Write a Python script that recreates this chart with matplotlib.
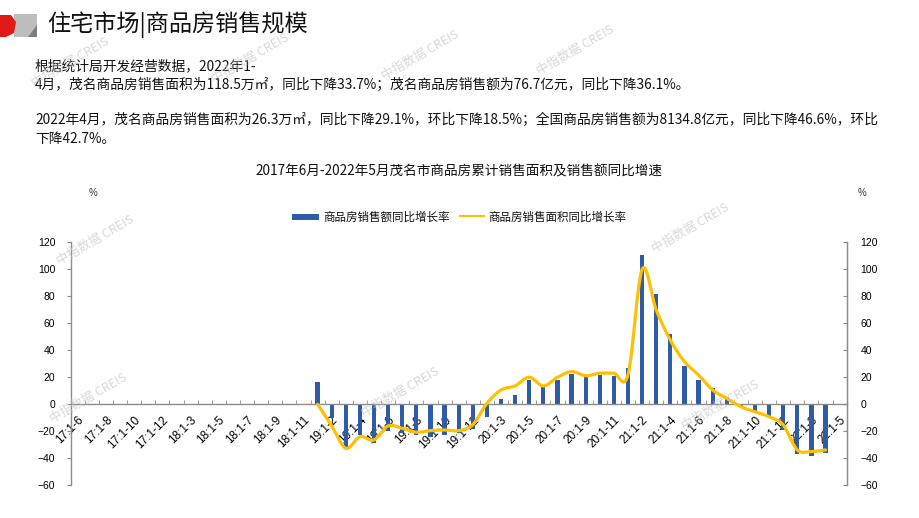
import numpy as np
import matplotlib
matplotlib.use("Agg")
import matplotlib.pyplot as plt
from matplotlib.path import Path
from matplotlib.patches import PathPatch, Polygon, Rectangle

plt.rcParams['font.family'] = ['Noto Sans CJK SC', 'DejaVu Sans']

categories = [
    "17:1-6", "17:1-7", "17:1-8", "17:1-9", "17:1-10", "17:1-11", "17:1-12",
    "18:1-2", "18:1-3", "18:1-4", "18:1-5", "18:1-6", "18:1-7", "18:1-8", "18:1-9", "18:1-10", "18:1-11", "18:1-12",
    "19:1-2", "19:1-3", "19:1-4", "19:1-5", "19:1-6", "19:1-7", "19:1-8", "19:1-9", "19:1-10", "19:1-11", "19:1-12",
    "20:1-2", "20:1-3", "20:1-4", "20:1-5", "20:1-6", "20:1-7", "20:1-8", "20:1-9", "20:1-10", "20:1-11", "20:1-12",
    "21:1-2", "21:1-3", "21:1-4", "21:1-5", "21:1-6", "21:1-7", "21:1-8", "21:1-9", "21:1-10", "21:1-11", "21:1-12",
    "22:1-2", "22:1-3", "22:1-4", "22:1-5",
]

N = None
sales_amount_yoy = [
    N, N, N, N, N, N, N,
    N, N, N, N, N, N, N, N, N, N, 16.3,
    -10.0, -31.5, -23.0, -29.0, -20.0, -21.0, -22.7, -24.0, -23.0, -21.0, -18.5,
    -9.2, 3.7, 6.9, 18.2, 12.8, 18.0, 22.2, 21.0, 21.7, 21.2, 27.1,
    110.3, 81.9, 52.1, 28.4, 18.0, 12.1, 5.6, -1.5, -6.7, -9.0, -19.0,
    -36.8, -38.0, -36.3, N,
]
sales_area_yoy = [
    N, N, N, N, N, N, N,
    N, N, N, N, N, N, N, N, N, N, 0.0,
    -16.0, -32.6, -24.0, -26.4, -16.0, -17.8, -20.7, -19.5, -19.0, -19.5, -15.0,
    0.7, 10.6, 13.6, 20.0, 13.6, 20.0, 24.2, 21.2, 23.0, 23.0, 22.0,
    100.0, 69.8, 47.6, 31.6, 21.7, 10.6, 4.4, -1.8, -5.5, -9.2, -15.3,
    -33.8, -35.0, -33.8, N,
]
y_ticks = [-60, -40, -20, 0, 20, 40, 60, 80, 100, 120]

title_text = "住宅市场|商品房销售规模"
para_lines = [
    "根据统计局开发经营数据，2022年1-",
    "4月，茂名商品房销售面积为118.5万㎡，同比下降33.7%；茂名商品房销售额为76.7亿元，同比下降36.1%。",
    "2022年4月，茂名商品房销售面积为26.3万㎡，同比下降29.1%，环比下降18.5%；全国商品房销售额为8134.8亿元，同比下降46.6%，环比",
    "下降42.7%。",
]
chart_title = "2017年6月-2022年5月茂名市商品房累计销售面积及销售额同比增速"
legend_labels = ["商品房销售额同比增长率", "商品房销售面积同比增长率"]

W, H = 920, 518
fig = plt.figure(figsize=(W / 100, H / 100), dpi=100)

def fx(px):
    return px / W

def fy(py):
    return 1 - py / H

# logo
fig.patches.append(Rectangle((fx(14), fy(37)), fx(23), fy(14) - fy(37), transform=fig.transFigure,
                             facecolor='#bdbdbd', edgecolor='none'))
fig.patches.append(Polygon([(fx(0), fy(15)), (fx(11), fy(15)), (fx(16), fy(22)), (fx(14), fy(33)),
                            (fx(6), fy(37)), (fx(0), fy(37))], closed=True, transform=fig.transFigure,
                           facecolor='#e01a1a', edgecolor='none'))
fig.patches.append(Polygon([(fx(28), fy(37)), (fx(37), fy(25)), (fx(37), fy(37))], closed=True,
                           transform=fig.transFigure, facecolor='#7d7d7d', edgecolor='none'))

fig.text(fx(47), fy(25), title_text, fontsize=16.7, va='center', ha='left', color='#111111')

para_y = [66, 85, 120, 139]
for t, yy in zip(para_lines, para_y):
    fig.text(fx(35), fy(yy), t, fontsize=9.9, va='center', ha='left', color='#111111')

fig.text(fx(459), fy(172), chart_title, fontsize=9.8, va='center', ha='center', color='#111111')
fig.text(fx(93), fy(193), "%", fontsize=7, va='center', ha='center', color='#333333', family='Liberation Sans')
fig.text(fx(862), fy(193), "%", fontsize=7, va='center', ha='center', color='#333333', family='Liberation Sans')

left, right = 70.7, 846.7
top, bottom = 242.3, 485.3
ax = fig.add_axes([fx(left), fy(bottom), fx(right) - fx(left), fy(top) - fy(bottom)])
ax.set_facecolor('none')

n = len(categories)
x = np.arange(n)
amt = np.array([np.nan if v is None else v for v in sales_amount_yoy], dtype=float)
area = np.array([np.nan if v is None else v for v in sales_area_yoy], dtype=float)

bar_color = '#2E5CA8'
line_color = '#FFC000'
ax.bar(x, amt, width=0.3, color=bar_color, zorder=2)

# smooth line through the data points (cubic Bezier, Catmull-Rom style)
m = ~np.isnan(area)
px_ = x[m].astype(float)
py_ = area[m]
verts = [(px_[0], py_[0])]
codes = [Path.MOVETO]
k = len(px_)
for i in range(k - 1):
    p0 = np.array([px_[max(i - 1, 0)], py_[max(i - 1, 0)]])
    p1 = np.array([px_[i], py_[i]])
    p2 = np.array([px_[i + 1], py_[i + 1]])
    p3 = np.array([px_[min(i + 2, k - 1)], py_[min(i + 2, k - 1)]])
    c1 = p1 + (p2 - p0) / 6.0
    c2 = p2 - (p3 - p1) / 6.0
    verts += [tuple(c1), tuple(c2), tuple(p2)]
    codes += [Path.CURVE4] * 3
ax.add_patch(PathPatch(Path(verts, codes), facecolor='none', edgecolor=line_color, lw=2.3, zorder=3,
                       capstyle='round', joinstyle='round'))

ax.set_xlim(-0.5, n - 0.5)
ax.set_ylim(-60, 120)
ax.set_yticks(y_ticks)

axis_col = '#8c8c8c'
ax.spines['top'].set_visible(False)
ax.spines['bottom'].set_position(('data', 0))
for s in ['bottom', 'left', 'right']:
    ax.spines[s].set_color(axis_col)
    ax.spines[s].set_linewidth(1.0)

ax.set_xticks(x[::2])
ax.set_xticklabels(categories[::2], rotation=45, ha='right', va='top', rotation_mode='anchor',
                   fontsize=8.5, family='Liberation Sans')
ax.set_xticks(np.arange(n + 1) - 0.5, minor=True)
ax.tick_params(axis='x', which='major', length=0, pad=7)
ax.tick_params(axis='x', which='minor', direction='in', length=3, color=axis_col)
ax.tick_params(axis='y', which='major', direction='out', length=3, color=axis_col, labelsize=7.5, pad=8)
for lab in ax.get_yticklabels():
    lab.set_family('Liberation Sans')

ax2 = ax.twinx()
ax2.set_ylim(-60, 120)
ax2.set_yticks(y_ticks)
for s in ['top', 'bottom', 'left']:
    ax2.spines[s].set_visible(False)
ax2.spines['right'].set_color(axis_col)
ax2.tick_params(axis='y', direction='in', length=3, color=axis_col, labelsize=7.5, pad=10)
for lab in ax2.get_yticklabels():
    lab.set_family('Liberation Sans')
ax2.set_facecolor('none')

# legend
fig.patches.append(Rectangle((fx(292), fy(220)), fx(27), fy(214) - fy(220), transform=fig.transFigure,
                             facecolor=bar_color, edgecolor='none'))
fig.text(fx(323), fy(217), legend_labels[0], fontsize=8.3, va='center', ha='left', color='#111111')
fig.lines.append(plt.Line2D([fx(460), fx(484)], [fy(216), fy(216)], transform=fig.transFigure,
                            color=line_color, lw=1.5))
fig.text(fx(488), fy(217), legend_labels[1], fontsize=8.3, va='center', ha='left', color='#111111')

# watermarks
wm = "中指数据 CREIS"
for (wx, wy) in [(95, 240), (400, 392), (690, 228), (720, 405), (88, 398), (70, 62), (250, 58), (420, 55), (575, 50)]:
    fig.text(fx(wx), fy(wy), wm, fontsize=9, rotation=30, color='#c8c8c8', alpha=0.7,
             ha='center', va='center', zorder=10)

fig.savefig("out.png", dpi=100)
